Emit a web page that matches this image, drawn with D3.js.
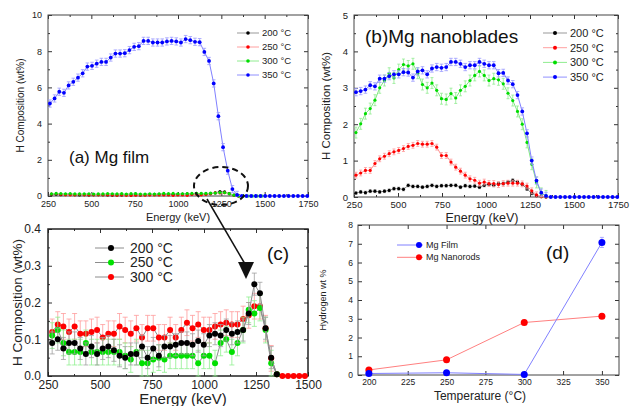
<!DOCTYPE html>
<html>
<head>
<meta charset="utf-8">
<script src="https://cdnjs.cloudflare.com/ajax/libs/d3/7.8.5/d3.min.js"></script>
<style>
body { margin: 0; background: #fff; }
svg { display: block; font-family: "Liberation Sans", Arial, sans-serif; }
</style>
</head>
<body>
<svg id="fig" width="633" height="406"></svg>
<script>
// energy grid of panels (a) and (b), keV
let energyAB = [261, 288, 315, 342, 369, 396, 423, 450, 477, 504, 531, 558, 585, 612, 639, 666, 693, 720, 747, 774,
  801, 828, 855, 882, 909, 936, 963, 990, 1017, 1044, 1071, 1098, 1125, 1152, 1179, 1206, 1233, 1260, 1287, 1314,
  1341, 1368, 1395, 1422, 1449, 1476, 1503, 1530, 1557, 1584, 1611, 1638, 1665, 1692, 1719, 1746]

// (a) Mg film, 350 C
let film350 = [5.11, 5.39, 5.76, 5.70, 6.11, 6.31, 6.54, 6.78, 7.15, 7.19, 7.31, 7.41, 7.41, 7.65, 7.87, 7.87, 7.89,
  8.06, 8.24, 8.28, 8.57, 8.57, 8.48, 8.48, 8.48, 8.54, 8.57, 8.54, 8.48, 8.67, 8.61, 8.52, 8.50, 7.96, 7.46, 6.22,
  4.41, 2.70, 1.40, 0.38, 0.06, 0, 0, 0, 0, 0, 0, 0, 0, 0, 0, 0, 0, 0, 0, 0]

// (b) Mg nanoblades
let blade200 = [0.11, 0.14, 0.12, 0.16, 0.16, 0.14, 0.16, 0.18, 0.23, 0.23, 0.21, 0.32, 0.29, 0.29, 0.27, 0.29, 0.32,
  0.29, 0.31, 0.31, 0.32, 0.32, 0.27, 0.31, 0.29, 0.30, 0.27, 0.32, 0.35, 0.32, 0.37, 0.37, 0.41, 0.46, 0.41, 0.35,
  0.22, 0.10, 0.03, 0.01, 0]
let blade250 = [0.60, 0.66, 0.73, 0.73, 0.92, 1.05, 1.12, 1.19, 1.24, 1.28, 1.33, 1.39, 1.42, 1.47, 1.45, 1.45, 1.47,
  1.37, 1.14, 1.14, 0.96, 0.82, 0.71, 0.60, 0.50, 0.46, 0.38, 0.41, 0.37, 0.37, 0.34, 0.37, 0.38, 0.38, 0.38, 0.36,
  0.30, 0.17, 0.06, 0.01, 0]
let blade300 = [1.77, 2.01, 2.29, 2.43, 2.66, 3.00, 3.20, 3.40, 3.27, 3.50, 3.64, 3.60, 3.66, 3.40, 3.09, 3.00, 3.13,
  2.93, 2.70, 2.68, 2.84, 2.72, 2.93, 3.04, 3.20, 3.34, 3.45, 3.34, 3.20, 3.25, 3.22, 3.11, 2.85, 2.65, 2.35, 2.00,
  1.50, 0.90, 0.40, 0.10, 0.03]
let blade350 = [2.88, 2.91, 2.95, 3.07, 3.04, 3.25, 3.25, 3.32, 3.37, 3.37, 3.43, 3.42, 3.28, 3.45, 3.48, 3.37, 3.53,
  3.57, 3.55, 3.57, 3.71, 3.71, 3.66, 3.57, 3.62, 3.62, 3.71, 3.66, 3.62, 3.62, 3.40, 3.41, 3.20, 3.10, 2.80, 2.35,
  1.75, 1.00, 0.45, 0.12, 0.03, 0, 0, 0, 0, 0, 0, 0, 0, 0, 0, 0, 0, 0, 0, 0]

// energy grid of panel (c), keV
let energyC = [270, 297, 324, 351, 378, 405, 432, 459, 486, 513, 540, 567, 594, 621, 648, 675, 702, 729, 756, 783,
  810, 837, 864, 891, 918, 945, 972, 999, 1026, 1053, 1080, 1107, 1134, 1161, 1188, 1215, 1242, 1269, 1296, 1323,
  1350, 1377, 1404, 1431, 1458, 1485]

// (c) Mg film, low temperatures
let film200 = [0.09, 0.10, 0.075, 0.09, 0.09, 0.075, 0.06, 0.08, 0.06, 0.075, 0.08, 0.07, 0.055, 0.05, 0.06, 0.06,
  0.08, 0.05, 0.075, 0.055, 0.08, 0.08, 0.085, 0.09, 0.09, 0.085, 0.095, 0.085, 0.11, 0.115, 0.11, 0.125, 0.115,
  0.12, 0.125, 0.17, 0.25, 0.225, 0.13, 0.05, 0.005]
let film250 = [0.11, 0.125, 0.09, 0.065, 0.065, 0.065, 0.09, 0.065, 0.065, 0.065, 0.065, 0.065, 0.065, 0.055, 0.045,
  0.065, 0.035, 0.035, 0.045, 0.05, 0.045, 0.055, 0.055, 0.055, 0.055, 0.055, 0.035, 0.055, 0.055, 0.035, 0.09, 0.10,
  0.065, 0.09, 0.125, 0.18, 0.17, 0.185, 0.125, 0.035, 0.005]
let film300 = [0.12, 0.14, 0.135, 0.12, 0.135, 0.115, 0.115, 0.12, 0.125, 0.105, 0.115, 0.115, 0.135, 0.125, 0.115,
  0.13, 0.105, 0.13, 0.13, 0.105, 0.105, 0.125, 0.105, 0.125, 0.145, 0.13, 0.14, 0.125, 0.125, 0.135, 0.14, 0.145,
  0.14, 0.14, 0.155, 0.165, 0.19, 0.19, 0.13, 0.048, 0.005, 0, 0, 0, 0, 0]

// (d) hydrogen content vs temperature
let temps = [200, 250, 300, 350]
let filmWt = [0.08, 0.12, 0.03, 7.07]
let filmWtErr = [0.04, 0.04, 0.04, 0.27]
let rodWt = [0.27, 0.81, 2.80, 3.14]
let rodWtErr = [0.06, 0.08, 0.12, 0.12]

let legendTemps = ['200 °C', '250 °C', '300 °C', '350 °C']

let svg = d3.select('#fig')

function makePanel(o) {
  let x = d3.scaleLinear().domain(o.xDomain).range([o.left, o.right])
  let y = d3.scaleLinear().domain(o.yDomain).range([o.bottom, o.top])
  let g = svg.append('g')

  let fixAxis = sel => {
    sel.select('.domain').remove()
    sel.attr('font-family', null).attr('font-size', null)
    sel.selectAll('line').attr('stroke', '#333')
    sel.selectAll('text').style('font-size', o.tickFont + 'px').attr('fill', '#222')
  }

  g.append('g').attr('transform', `translate(0,${o.bottom})`)
    .call(d3.axisBottom(x).tickValues(o.xMinor).tickSize(-2).tickFormat('')).call(fixAxis)
  g.append('g').attr('transform', `translate(0,${o.top})`)
    .call(d3.axisTop(x).tickValues(o.xMinor).tickSize(-2).tickFormat('')).call(fixAxis)
  g.append('g').attr('transform', `translate(${o.left},0)`)
    .call(d3.axisLeft(y).tickValues(o.yMinor).tickSize(-2).tickFormat('')).call(fixAxis)
  g.append('g').attr('transform', `translate(${o.right},0)`)
    .call(d3.axisRight(y).tickValues(o.yMinor).tickSize(-2).tickFormat('')).call(fixAxis)

  g.append('g').attr('transform', `translate(0,${o.bottom})`)
    .call(d3.axisBottom(x).tickValues(o.xTicks).tickSize(-4).tickPadding(o.xPad).tickFormat(o.xFmt)).call(fixAxis)
  g.append('g').attr('transform', `translate(0,${o.top})`)
    .call(d3.axisTop(x).tickValues(o.xTicks).tickSize(-4).tickFormat('')).call(fixAxis)
  g.append('g').attr('transform', `translate(${o.left},0)`)
    .call(d3.axisLeft(y).tickValues(o.yTicks).tickSize(-4).tickPadding(o.yPad).tickFormat(o.yFmt)).call(fixAxis)
  g.append('g').attr('transform', `translate(${o.right},0)`)
    .call(d3.axisRight(y).tickValues(o.yTicks).tickSize(-4).tickFormat('')).call(fixAxis)

  g.append('rect')
    .attr('x', o.left).attr('y', o.top)
    .attr('width', o.right - o.left).attr('height', o.bottom - o.top)
    .attr('fill', 'none').attr('stroke', o.frame || '#444').attr('stroke-width', o.frameWidth || 1)

  g.append('text')
    .attr('transform', `translate(${o.yLabelX},${(o.top + o.bottom) / 2}) rotate(-90)`)
    .attr('text-anchor', 'middle').attr('font-size', o.yLabelFont).attr('fill', '#222')
    .text(o.yLabel)
  g.append('text')
    .attr('x', o.xLabelX).attr('y', o.xLabelY)
    .attr('text-anchor', 'middle').attr('font-size', o.xLabelFont).attr('fill', '#222')
    .text(o.xLabel)

  return {g, x, y}
}

function drawSeries(p, xs, ys, err, st) {
  let pts = ys.map((v, i) => [xs[i], v, Array.isArray(err) ? err[i] : err])
  let g = p.g.append('g')
  g.append('path')
    .attr('d', d3.line().x(d => p.x(d[0])).y(d => p.y(d[1]))(pts))
    .attr('fill', 'none').attr('stroke', st.line).attr('stroke-width', st.lineWidth || 1)
  if (err != null) {
    let lo = p.y.domain()[0], hi = p.y.domain()[1]
    let eb = pts.filter(d => d[1] > 0.015)
      .map(d => [d[0], Math.max(lo, d[1] - d[2]), Math.min(hi, d[1] + d[2])])
    g.selectAll('.eb').data(eb).enter().append('line')
      .attr('x1', d => p.x(d[0])).attr('x2', d => p.x(d[0]))
      .attr('y1', d => p.y(d[1])).attr('y2', d => p.y(d[2]))
      .attr('stroke', st.err).attr('stroke-width', 0.8)
    ;[1, 2].forEach(k => {
      g.selectAll('.cap' + k).data(eb).enter().append('line')
        .attr('x1', d => p.x(d[0]) - st.cap).attr('x2', d => p.x(d[0]) + st.cap)
        .attr('y1', d => p.y(d[k])).attr('y2', d => p.y(d[k]))
        .attr('stroke', st.err).attr('stroke-width', 0.8)
    })
  }
  g.selectAll('circle').data(pts).enter().append('circle')
    .attr('cx', d => p.x(d[0])).attr('cy', d => p.y(d[1]))
    .attr('r', st.r).attr('fill', st.color)
}

function drawLegend(p, items, o) {
  items.forEach((it, i) => {
    let yy = o.y0 + i * o.dy
    p.g.append('line')
      .attr('x1', o.x0).attr('x2', o.x1).attr('y1', yy).attr('y2', yy)
      .attr('stroke', it.line).attr('stroke-width', 1)
    p.g.append('circle').attr('cx', o.mx).attr('cy', yy).attr('r', o.r).attr('fill', it.color)
    p.g.append('text')
      .attr('x', o.tx).attr('y', yy).attr('dy', '0.35em')
      .attr('font-size', o.font).attr('fill', '#222')
      .text(it.label)
  })
}

let blackSt = {color: '#000', line: '#8a8a8a', err: '#999', r: 1.6, cap: 1.5}
let redSt = {color: '#ff0000', line: '#ff9090', err: '#ff9a9a', r: 1.6, cap: 1.5}
let greenSt = {color: '#00dd00', line: '#80e880', err: '#90ec90', r: 1.6, cap: 1.5}
let blueSt = {color: '#0000ff', line: '#8080ff', err: '#9a9aff', r: 1.9, cap: 1.8}

// ---------- (a) Mg film ----------
let pa = makePanel({
  left: 48, right: 308, top: 15, bottom: 196,
  xDomain: [250, 1750], yDomain: [0, 10],
  xTicks: d3.range(250, 1751, 250), xMinor: d3.range(375, 1750, 250),
  yTicks: d3.range(0, 10.1, 2), yMinor: d3.range(1, 10, 2),
  xFmt: d3.format('d'), yFmt: d3.format('d'),
  tickFont: 9, xPad: 5, yPad: 6,
  yLabel: 'H Composition (wt%)', yLabelX: 24, yLabelFont: 10,
  xLabel: 'Energy (keV)', xLabelX: 178, xLabelY: 221, xLabelFont: 11
})
drawSeries(pa, energyC, film200, null, blackSt)
drawSeries(pa, energyC, film250, null, redSt)
drawSeries(pa, energyC, film300, null, greenSt)
drawSeries(pa, energyAB, film350, 0.2, blueSt)
drawLegend(pa, [
  {label: legendTemps[0], color: '#000', line: '#999'},
  {label: legendTemps[1], color: '#ff0000', line: '#ffa0a0'},
  {label: legendTemps[2], color: '#00dd00', line: '#90ec90'},
  {label: legendTemps[3], color: '#0000ff', line: '#9090ff'}
], {x0: 237, x1: 259, mx: 248, tx: 262, y0: 33, dy: 14, r: 1.8, font: 9.5})
pa.g.append('text').attr('x', 69).attr('y', 163).attr('font-size', 17).attr('fill', '#111').text('(a) Mg film')
pa.g.append('ellipse').attr('cx', 221).attr('cy', 186).attr('rx', 27).attr('ry', 19)
  .attr('fill', 'none').attr('stroke', '#111').attr('stroke-width', 2).attr('stroke-dasharray', '6,4')

// ---------- (b) Mg nanoblades ----------
let pb = makePanel({
  left: 354, right: 618, top: 15, bottom: 197,
  xDomain: [250, 1750], yDomain: [0, 5],
  xTicks: d3.range(250, 1751, 250), xMinor: d3.range(375, 1750, 250),
  yTicks: d3.range(0, 5.1, 1), yMinor: d3.range(0.5, 5, 1),
  xFmt: d3.format('d'), yFmt: d3.format('d'),
  tickFont: 9.5, xPad: 4, yPad: 6,
  yLabel: 'H Composition (wt%)', yLabelX: 330, yLabelFont: 11.5,
  xLabel: 'Energy (keV)', xLabelX: 482, xLabelY: 222, xLabelFont: 12.5
})
drawSeries(pb, energyAB, blade200, 0.04, blackSt)
drawSeries(pb, energyAB, blade250, 0.08, redSt)
drawSeries(pb, energyAB, blade300, 0.15, greenSt)
drawSeries(pb, energyAB, blade350, 0.1, blueSt)
drawLegend(pb, [
  {label: legendTemps[0], color: '#000', line: '#999'},
  {label: legendTemps[1], color: '#ff0000', line: '#ffa0a0'},
  {label: legendTemps[2], color: '#00dd00', line: '#90ec90'},
  {label: legendTemps[3], color: '#0000ff', line: '#9090ff'}
], {x0: 543, x1: 567, mx: 555, tx: 570, y0: 33, dy: 14.7, r: 2, font: 11})
pb.g.append('text').attr('x', 365).attr('y', 43).attr('font-size', 19).attr('fill', '#111').text('(b)Mg nanoblades')

// ---------- (c) low temperature film ----------
let pc = makePanel({
  left: 48, right: 308, top: 229, bottom: 376,
  xDomain: [250, 1500], yDomain: [0, 0.4],
  xTicks: d3.range(250, 1501, 250), xMinor: d3.range(375, 1500, 250),
  yTicks: [0, 0.1, 0.2, 0.3, 0.4], yMinor: [0.05, 0.15, 0.25, 0.35],
  xFmt: d3.format('d'), yFmt: d3.format('.1f'),
  tickFont: 12, xPad: 4, yPad: 7, frame: '#222', frameWidth: 1.5,
  yLabel: 'H Composition (wt%)', yLabelX: 22, yLabelFont: 13.5,
  xLabel: 'Energy (keV)', xLabelX: 183, xLabelY: 404, xLabelFont: 15
})
let cGrey = '#8c8c8c'
drawSeries(pc, energyC, film300, 0.035, {color: '#ff0000', line: cGrey, err: '#ff9a9a', r: 3, cap: 2.5})
drawSeries(pc, energyC, film250, 0.035, {color: '#00e000', line: cGrey, err: '#8ff08f', r: 3, cap: 2.5})
drawSeries(pc, energyC, film200, 0.03, {color: '#000', line: cGrey, err: '#a0a0a0', r: 3, cap: 2.5})
drawLegend(pc, [
  {label: legendTemps[0], color: '#000', line: cGrey},
  {label: legendTemps[1], color: '#00e000', line: cGrey},
  {label: legendTemps[2], color: '#ff0000', line: cGrey}
], {x0: 95, x1: 124, mx: 111, tx: 130, y0: 248, dy: 14.5, r: 3, font: 14})
pc.g.append('text').attr('x', 267).attr('y', 260).attr('font-size', 19).attr('fill', '#111').text('(c)')

// arrow from (a) to (c)
svg.append('line').attr('x1', 207).attr('y1', 199).attr('x2', 245).attr('y2', 264)
  .attr('stroke', '#111').attr('stroke-width', 1.5)
svg.append('path').attr('d', 'M238,262 L254,262 L246,279 Z').attr('fill', '#111')

// ---------- (d) temperature ----------
let pd = makePanel({
  left: 358, right: 619, top: 225, bottom: 375,
  xDomain: [193, 361], yDomain: [0, 8],
  xTicks: d3.range(200, 351, 25), xMinor: [],
  yTicks: d3.range(0, 8.1, 1), yMinor: [],
  xFmt: d3.format('d'), yFmt: d3.format('d'),
  tickFont: 8.5, xPad: 4, yPad: 5,
  yLabel: 'Hydrogen wt %', yLabelX: 326, yLabelFont: 9,
  xLabel: 'Temperature (°C)', xLabelX: 480, xLabelY: 400, xLabelFont: 12
})
drawSeries(pd, temps, rodWt, rodWtErr, {color: '#ff0000', line: '#ff8080', err: '#ff9a9a', r: 3.5, cap: 2})
drawSeries(pd, temps, filmWt, filmWtErr, {color: '#0000ff', line: '#8080ff', err: '#9a9aff', r: 3.5, cap: 2})
drawLegend(pd, [
  {label: 'Mg Film', color: '#0000ff', line: '#8080ff'},
  {label: 'Mg Nanorods', color: '#ff0000', line: '#ff8080'}
], {x0: 397, x1: 423, mx: 419, tx: 426, y0: 245, dy: 12.3, r: 3, font: 9})
pd.g.append('text').attr('x', 546).attr('y', 259).attr('font-size', 19).attr('fill', '#111').text('(d)')
</script>
</body>
</html>
